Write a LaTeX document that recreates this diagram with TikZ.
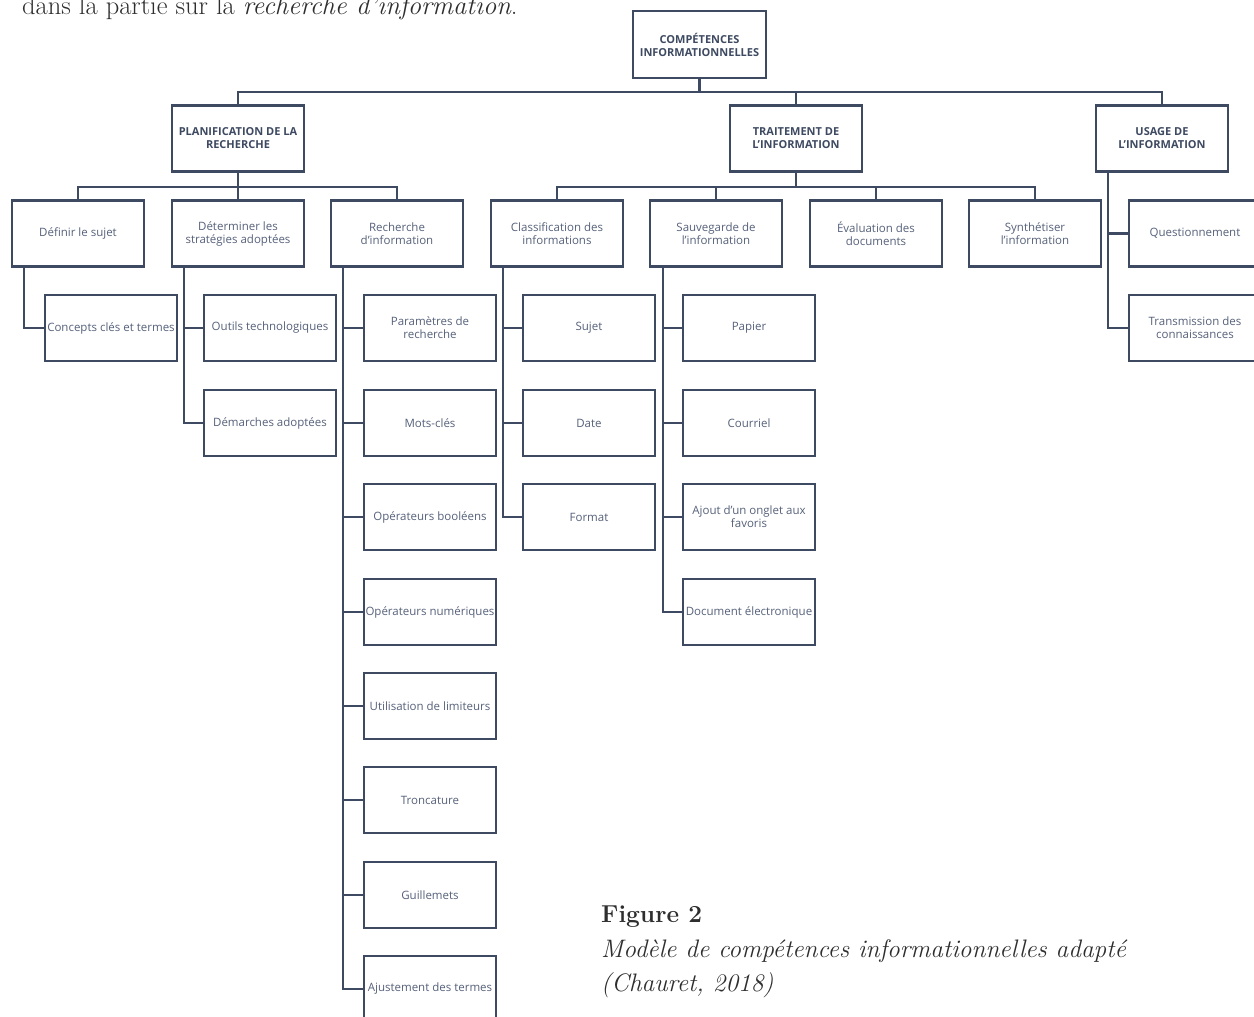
\documentclass[tikz,border=0pt]{standalone}
\usepackage{fontspec}
\setsansfont{Open Sans}
\definecolor{boxc}{HTML}{3E4A61}
\definecolor{txtc}{HTML}{56617A}
\definecolor{hdc}{HTML}{3E4A61}
\definecolor{capc}{HTML}{2E2E2E}
\begin{document}
\begin{tikzpicture}[x=1pt,y=-1pt,
  box/.style={draw=boxc, line width=2.4pt, fill=white, minimum width=132pt, minimum height=66pt, inner xsep=0pt, inner ysep=2pt, align=center, font=\sffamily\fontsize{11.5}{13}\selectfont, text=txtc},
  head/.style={box, font=\sffamily\bfseries\fontsize{11}{13}\selectfont, text=hdc},
  link/.style={draw=boxc, line width=2.4pt},
  captxt/.style={anchor=base west, inner sep=0pt, text=capc}]
\useasboundingbox (0,0) rectangle (1254,1017);
\clip (0,0) rectangle (1254,1017);

% intro text (cut off at the top, as in the reference)
\node[captxt, font=\fontsize{26.5}{30}\selectfont] (intro) at (22,14) {dans la partie sur la \textit{recherche d'information}.};

% top
\node[head, minimum width=133pt, minimum height=67pt] (top) at (699.5,44.5) {COMPÉTENCES\\INFORMATIONNELLES};

% level 1
\node[head] (plan)  at (238,138.5)  {PLANIFICATION DE LA\\RECHERCHE};
\node[head] (trait) at (796,138.5)  {TRAITEMENT DE\\L'INFORMATION};
\node[head] (usage) at (1162,138.5) {USAGE DE\\L'INFORMATION};

% level 2
\node[box] (def)   at (78,233.5)   {Définir le sujet};
\node[box] (det)   at (238,233.5)  {Déterminer les\\stratégies adoptées};
\node[box] (rech)  at (397,233.5)  {Recherche\\d'information};
\node[box] (cls)   at (557,233.5)  {Classification des\\informations};
\node[box] (sauv)  at (716,233.5)  {Sauvegarde de\\l'information};
\node[box] (eval)  at (876,233.5)  {Évaluation des\\documents};
\node[box] (synth) at (1035,233.5) {Synthétiser\\l'information};
\node[box] (quest) at (1195,233.5) {Questionnement};
\node[box] (trans) at (1195,328)   {Transmission des\\connaissances};

% level 3 - Planification
\node[box] (concepts)  at (111,328) {Concepts clés et termes};
\node[box] (outils)    at (270,328) {Outils technologiques};
\node[box] (demarches) at (270,423) {Démarches adoptées};

\node[box] (param) at (430,328) {Paramètres de\\recherche};
\node[box] (mots)  at (430,423) {Mots-clés};
\node[box] (bool)  at (430,517) {Opérateurs booléens};
\node[box] (num)   at (430,612) {Opérateurs numériques};
\node[box] (lim)   at (430,706) {Utilisation de limiteurs};
\node[box] (tronc) at (430,800) {Troncature};
\node[box] (guil)  at (430,895) {Guillemets};
\node[box] (ajust) at (430,989) {Ajustement des termes};

% level 3 - Traitement
\node[box] (sujet)  at (589,328) {Sujet};
\node[box] (date)   at (589,423) {Date};
\node[box] (format) at (589,517) {Format};

\node[box] (papier)   at (749,328) {Papier};
\node[box] (courriel) at (749,423) {Courriel};
\node[box] (ajout)    at (749,517) {Ajout d'un onglet aux\\favoris};
\node[box] (docel)    at (749,612) {Document électronique};

% connectors
\draw[link] (top.south) -- ++(0,13) -| (plan.north);
\draw[link] (top.south) -- ++(0,13) -| (trait.north);
\draw[link] (top.south) -- ++(0,13) -| (usage.north);

\draw[link] (plan.south) -- ++(0,14) -| (def.north);
\draw[link] (plan.south) -- ++(0,14) -| (det.north);
\draw[link] (plan.south) -- ++(0,14) -| (rech.north);

\draw[link] (trait.south) -- ++(0,14) -| (cls.north);
\draw[link] (trait.south) -- ++(0,14) -| (sauv.north);
\draw[link] (trait.south) -- ++(0,14) -| (eval.north);
\draw[link] (trait.south) -- ++(0,14) -| (synth.north);

\draw[link] ([xshift=13pt]usage.south west) |- (quest.west);
\draw[link] ([xshift=13pt]usage.south west) |- (trans.west);

\draw[link] ([xshift=13pt]def.south west) |- (concepts.west);
\draw[link] ([xshift=13pt]det.south west) |- (outils.west);
\draw[link] ([xshift=13pt]det.south west) |- (demarches.west);

\foreach \n in {param,mots,bool,num,lim,tronc,guil,ajust}
  \draw[link] ([xshift=13pt]rech.south west) |- (\n.west);
\foreach \n in {sujet,date,format}
  \draw[link] ([xshift=13pt]cls.south west) |- (\n.west);
\foreach \n in {papier,courriel,ajout,docel}
  \draw[link] ([xshift=14pt]sauv.south west) |- (\n.west);

% caption
\node[captxt, font=\bfseries\fontsize{24.5}{28}\selectfont] (fig) at (601,922) {Figure 2};
\node[captxt, font=\itshape\fontsize{25.3}{28}\selectfont] (cap1) at (601,957) {Modèle de compétences informationnelles adapté};
\node[captxt, font=\itshape\fontsize{25.3}{28}\selectfont] (cap2) at (601,991) {(Chauret, 2018)};
\end{tikzpicture}
\end{document}
